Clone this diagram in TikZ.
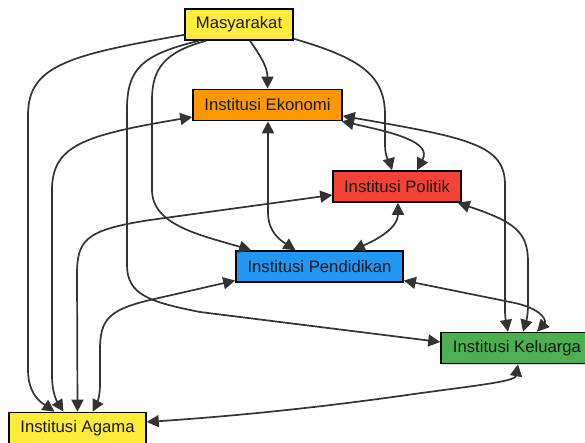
\documentclass[tikz,border=0pt]{standalone}
\usepackage{fontspec}
\setmainfont{Liberation Sans}
\usetikzlibrary{arrows.meta,calc,shadows}

\definecolor{cyellow}{HTML}{FFEB3B}
\definecolor{corange}{HTML}{FF9800}
\definecolor{cred}{HTML}{F44336}
\definecolor{cblue}{HTML}{2196F3}
\definecolor{cgreen}{HTML}{4CAF50}
\definecolor{edgegray}{HTML}{333333}

\tikzset{
  box/.style={draw=black, line width=1.6pt, rectangle, minimum height=31pt,
    inner sep=0pt, font=\fontsize{16.7}{19}\selectfont, text=black!90,
    drop shadow={shadow xshift=1pt, shadow yshift=-1pt, opacity=0.25}},
  link/.style={draw=edgegray, line width=1.7pt,
    -{Triangle[length=12pt,width=12pt]}},
  both/.style={draw=edgegray, line width=1.7pt,
    {Triangle[length=12pt,width=12pt]}-{Triangle[length=12pt,width=12pt]}}
}

\begin{document}
\begin{tikzpicture}[x=1pt,y=-1pt]
\useasboundingbox (0,0) rectangle (585,443);

% institutions
\node[box, fill=cyellow, minimum width=108pt] (mas) at (239,24.5) {Masyarakat};
\node[box, fill=corange, minimum width=149pt] (eko) at (267.5,105) {Institusi Ekonomi};
\node[box, fill=cred,    minimum width=128pt] (pol) at (397,186.5) {Institusi Politik};
\node[box, fill=cblue,   minimum width=167pt] (pen) at (319.5,266.5) {Institusi Pendidikan};
\node[box, fill=cgreen,  minimum width=152pt] (kel) at (517,348) {Institusi Keluarga};
\node[box, fill=cyellow, minimum width=137pt] (aga) at (77.5,428) {Institusi Agama};

% from Masyarakat
\draw[link] ($(mas.south)+(11,0)$) .. controls (262,58) and (267.5,68) .. (eko.north);
\draw[link] ($(mas.south east)+(0,-2)$) .. controls (360,58) and (385,75) .. (385,115)
  -- (385,145) .. controls (385,158) and (390,163) .. ($(pol.north)+(-5,0)$);
\draw[link] ($(mas.south west)+(0,-6)$) .. controls (70,55) and (28,65) .. (28,115)
  -- (28,370) .. controls (28,395) and (42,403) .. ($(aga.north)+(-23,0)$);
\draw[link] ($(mas.south)+(-40,0)$) .. controls (140,55) and (127,70) .. (127,110)
  -- (127,265) .. controls (127,295) and (150,302) .. (200,312)
  -- ($(kel.west)+(0,-6)$);
\draw[link] ($(mas.south)+(-33,0)$) .. controls (165,52) and (152,68) .. (152,100)
  -- (152,190) .. controls (152,225) and (200,235) .. ($(pen.north west)+(16,0)$);

% Ekonomi
\draw[both] ($(eko.south)+(0.5,0)$) -- (268,212) .. controls (268,232) and (280,240)
  .. ($(pen.north)+(-24,0)$);
\draw[both] ($(eko.south east)+(-1,0)$) .. controls (395,133) and (432,142)
  .. ($(pol.north)+(20,0)$);
\draw[both] ($(eko.east)+(0,11)$) .. controls (470,138) and (505,145) .. (505,185)
  -- (505,310) .. controls (505,320) and (507,326) .. ($(kel.north)+(-9,0)$);
\draw[both] ($(eko.west)+(0,12)$) .. controls (85,135) and (52,145) .. (52,190)
  -- (52,375) .. controls (52,395) and (58,403) .. ($(aga.north)+(-14,0)$);

% Politik
\draw[both] ($(pol.south east)+(-4,0)$) .. controls (515,222) and (528,232) .. (528,262)
  -- (528,305) .. controls (528,318) and (525,325) .. ($(kel.north)+(6,0)$);
\draw[both] ($(pol.south)+(1,0)$) .. controls (398,225) and (385,236)
  .. ($(pen.north east)+(-51,0)$);
\draw[both] ($(pol.west)+(0,8.5)$) -- (150,220) .. controls (85,230) and (77,240)
  .. (77,275) -- (aga.north);

% Pendidikan
\draw[both] ($(pen.east)+(0,14)$) -- (515,303) .. controls (545,310) and (546,322)
  .. ($(kel.north)+(20,0)$);
\draw[both] ($(pen.west)+(0,14)$) -- (150,300) .. controls (108,310) and (100,320)
  .. (100,350) -- (100,385) .. controls (100,398) and (96,405) .. ($(aga.north)+(15,0)$);

% Keluarga
\draw[both] ($(kel.south)+(1,0)$) .. controls (515,382) and (470,386) .. (400,396)
  .. controls (300,410) and (220,417) .. ($(aga.east)+(0,-6)$);
\end{tikzpicture}
\end{document}
